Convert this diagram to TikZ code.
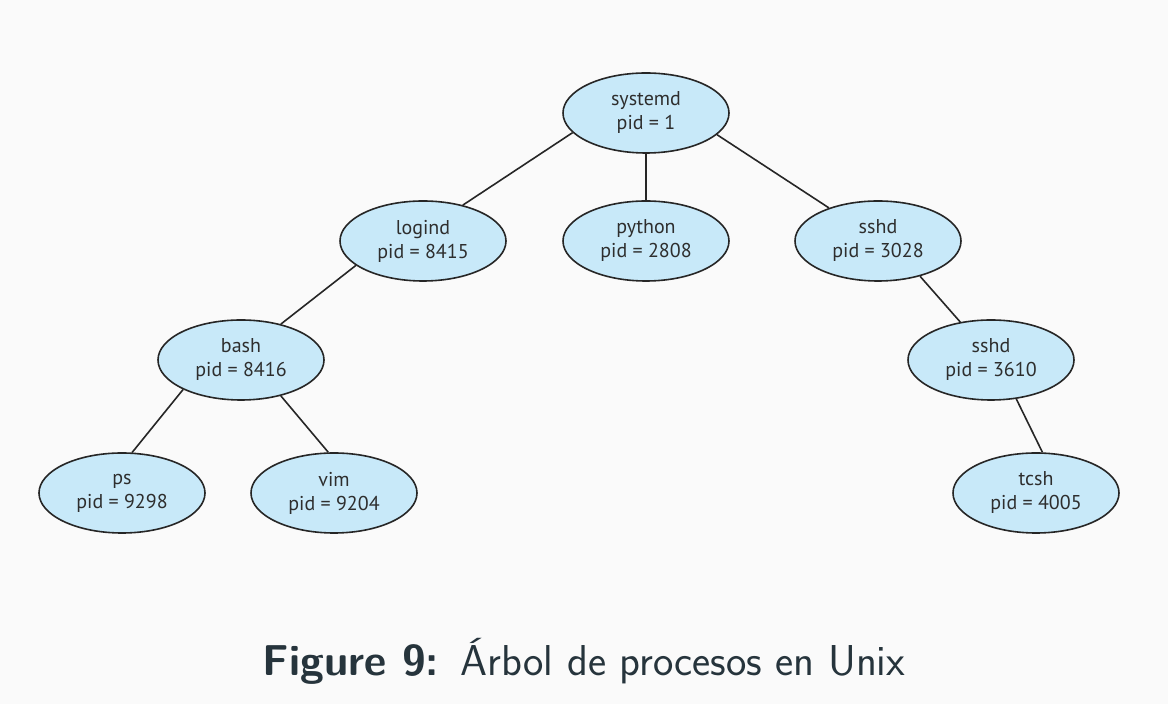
\documentclass[tikz,border=0pt]{standalone}
\usepackage{fontspec}
\setmainfont{PT Sans}
\usetikzlibrary{shapes.geometric}
\newfontfamily\capfont{Latin Modern Sans}
\definecolor{bgc}{HTML}{FAFAFA}
\definecolor{nodefill}{HTML}{C8E9F9}
\definecolor{txt}{HTML}{2E2E2E}
\definecolor{capc}{HTML}{26343C}
\begin{document}
\begin{tikzpicture}[x=1pt,y=1pt,
  proc/.style={ellipse,draw=black!85,line width=1.6pt,fill=nodefill,minimum width=166pt,minimum height=80pt,inner sep=0pt,align=center,text=txt,font=\fontsize{20}{24}\selectfont},
  edge/.style={draw=black!85,line width=1.6pt}]
\fill[bgc] (0,0) rectangle (1168,704);
\useasboundingbox (0,0) rectangle (1168,704);
\node[proc] (systemd) at (646,591) {systemd\\pid = 1};
\node[proc] (logind) at (423,463) {logind\\pid = 8415};
\node[proc] (python) at (646,463) {python\\pid = 2808};
\node[proc] (sshd) at (878,463) {sshd\\pid = 3028};
\node[proc] (bash) at (241,344) {bash\\pid = 8416};
\node[proc] (sshdb) at (991,344) {sshd\\pid = 3610};
\node[proc] (ps) at (122,211) {ps\\pid = 9298};
\node[proc] (vim) at (334,211) {vim\\pid = 9204};
\node[proc] (tcsh) at (1036,211) {tcsh\\pid = 4005};
\draw[edge] (systemd.195.3) -- (logind.42.7);
\draw[edge] (systemd.south) -- (python.north);
\draw[edge] (systemd.343.7) -- (sshd.146.6);
\draw[edge] (logind.200.7) -- (bash.42.1);
\draw[edge] (bash.207.3) -- (ps.76);
\draw[edge] (bash.318.7) -- (vim.98.5);
\draw[edge] (sshd.320.7) -- (sshdb.129.2);
\draw[edge] (sshdb.303) -- (tcsh.81);
\node[text=capc,font=\capfont\fontsize{43.2}{48}\selectfont,inner sep=0pt,anchor=base] (cap) at (584,28) {\textbf{Figure 9:}\hspace{0.5em}Árbol de procesos en Unix};
\end{tikzpicture}
\end{document}
